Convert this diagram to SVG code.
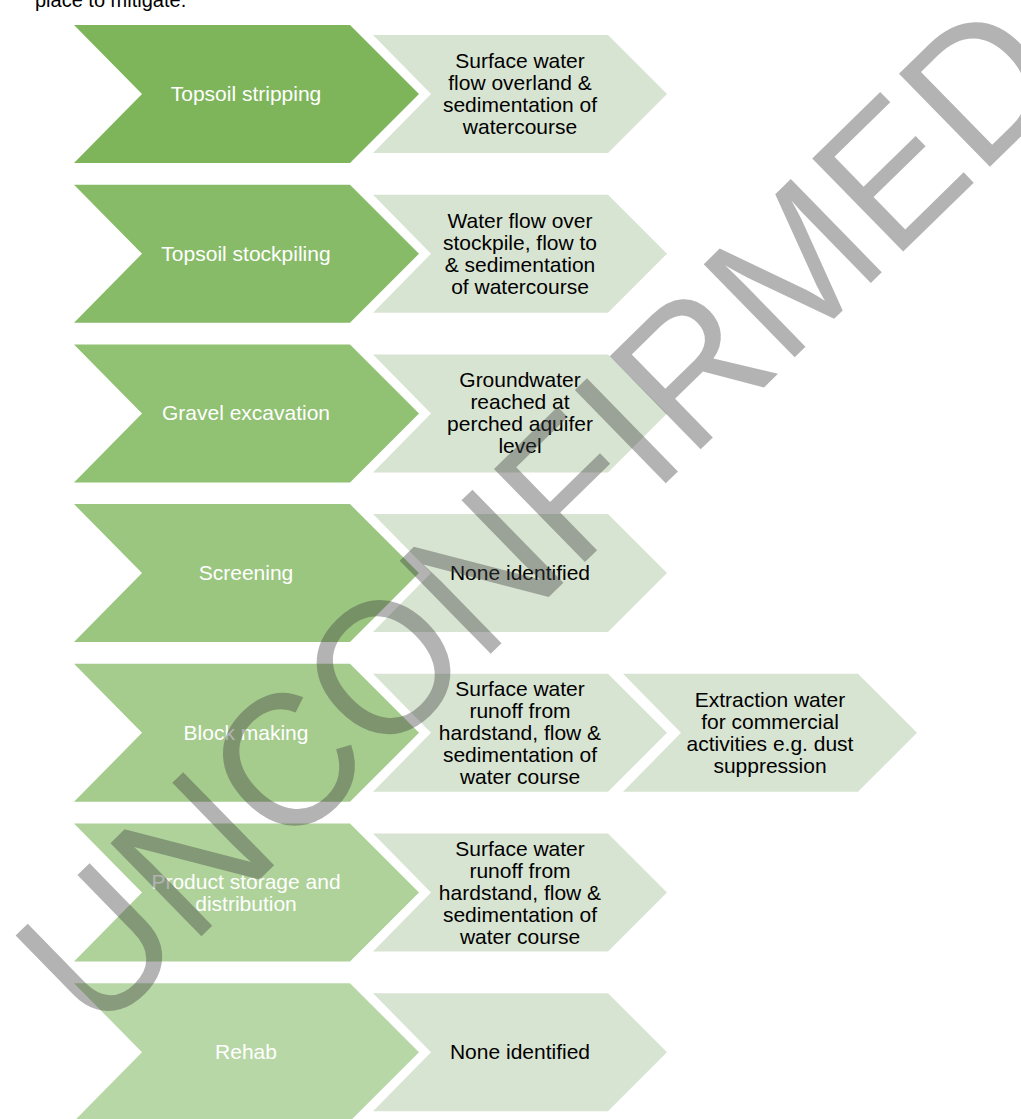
<svg xmlns="http://www.w3.org/2000/svg" width="1021" height="1119" viewBox="0 0 1021 1119">
<style>
  text { font-family: "Liberation Sans", Arial, sans-serif; font-size: 21px; text-anchor: middle; }
  .w { fill: #FFFFFF; }
  .b { fill: #000000; }
  .light { fill: #D8E4D2; }
  .intro { text-anchor: start; font-size: 20px; fill: #000; }
  .wm { font-size: 182px; fill: #404040; fill-opacity: 0.4; text-anchor: middle; }
</style>
<defs>
  <polygon id="big" points="74,0 350,0 419,69 350,138 74,138 142,69"/>
  <polygon id="sm" points="373,10 608,10 667,69 608,128 373,128 431,69"/>
</defs>
<rect width="1021" height="1119" fill="#FFFFFF"/>
<text class="intro" x="35" y="6.5">place to mitigate.</text>

<g id="connectors"/>

<g id="row1" transform="translate(0,25)">
  <g id="topsoil-stripping"><use href="#big" fill="#7EB55A"/><text class="w" x="246" y="76">Topsoil stripping</text></g>
  <g id="impact1"><use href="#sm" class="light"/>
    <text class="b" x="520"><tspan x="520" y="43">Surface water</tspan><tspan x="520" y="65">flow overland &amp;</tspan><tspan x="520" y="87">sedimentation of</tspan><tspan x="520" y="109">watercourse</tspan></text></g>
</g>

<g id="row2" transform="translate(0,184.7)">
  <g id="topsoil-stockpiling"><use href="#big" fill="#88BB67"/><text class="w" x="246" y="76">Topsoil stockpiling</text></g>
  <g id="impact2"><use href="#sm" class="light"/>
    <text class="b" x="520"><tspan x="520" y="43">Water flow over</tspan><tspan x="520" y="65">stockpile, flow to</tspan><tspan x="520" y="87">&amp; sedimentation</tspan><tspan x="520" y="109">of watercourse</tspan></text></g>
</g>

<g id="row3" transform="translate(0,344.4)">
  <g id="gravel-excavation"><use href="#big" fill="#91C173"/><text class="w" x="246" y="76">Gravel excavation</text></g>
  <g id="impact3"><use href="#sm" class="light"/>
    <text class="b" x="520"><tspan x="520" y="43">Groundwater</tspan><tspan x="520" y="65">reached at</tspan><tspan x="520" y="87">perched aquifer</tspan><tspan x="520" y="109">level</tspan></text></g>
</g>

<g id="row4" transform="translate(0,504.1)">
  <g id="screening"><use href="#big" fill="#9BC680"/><text class="w" x="246" y="76">Screening</text></g>
  <g id="impact4"><use href="#sm" class="light"/>
    <text class="b" x="520" y="76">None identified</text></g>
</g>

<g id="row5" transform="translate(0,663.8)">
  <g id="block-making"><use href="#big" fill="#A5CC8D"/><text class="w" x="246" y="76">Block making</text></g>
  <g id="impact5"><use href="#sm" class="light"/>
    <text class="b" x="520"><tspan x="520" y="32">Surface water</tspan><tspan x="520" y="54">runoff from</tspan><tspan x="520" y="76">hardstand, flow &amp;</tspan><tspan x="520" y="98">sedimentation of</tspan><tspan x="520" y="120">water course</tspan></text></g>
  <g id="impact5b" transform="translate(250,0)"><use href="#sm" class="light"/>
    <text class="b" x="520"><tspan x="520" y="43">Extraction water</tspan><tspan x="520" y="65">for commercial</tspan><tspan x="520" y="87">activities e.g. dust</tspan><tspan x="520" y="109">suppression</tspan></text></g>
</g>

<g id="row6" transform="translate(0,823.5)">
  <g id="product-storage"><use href="#big" fill="#AED299"/>
    <text class="w" x="246"><tspan x="246" y="65">Product storage and</tspan><tspan x="246" y="87">distribution</tspan></text></g>
  <g id="impact6"><use href="#sm" class="light"/>
    <text class="b" x="520"><tspan x="520" y="32">Surface water</tspan><tspan x="520" y="54">runoff from</tspan><tspan x="520" y="76">hardstand, flow &amp;</tspan><tspan x="520" y="98">sedimentation of</tspan><tspan x="520" y="120">water course</tspan></text></g>
</g>

<g id="row7" transform="translate(0,983.2)">
  <g id="rehab"><use href="#big" fill="#B8D7A6"/><text class="w" x="246" y="76">Rehab</text></g>
  <g id="impact7"><use href="#sm" class="light"/>
    <text class="b" x="520" y="76">None identified</text></g>
</g>

<g id="watermark">
  <text class="wm" transform="translate(585,562) rotate(-44.3) scale(1,1.04)" x="0" y="0">UNCONFIRMED</text>
</g>
</svg>
